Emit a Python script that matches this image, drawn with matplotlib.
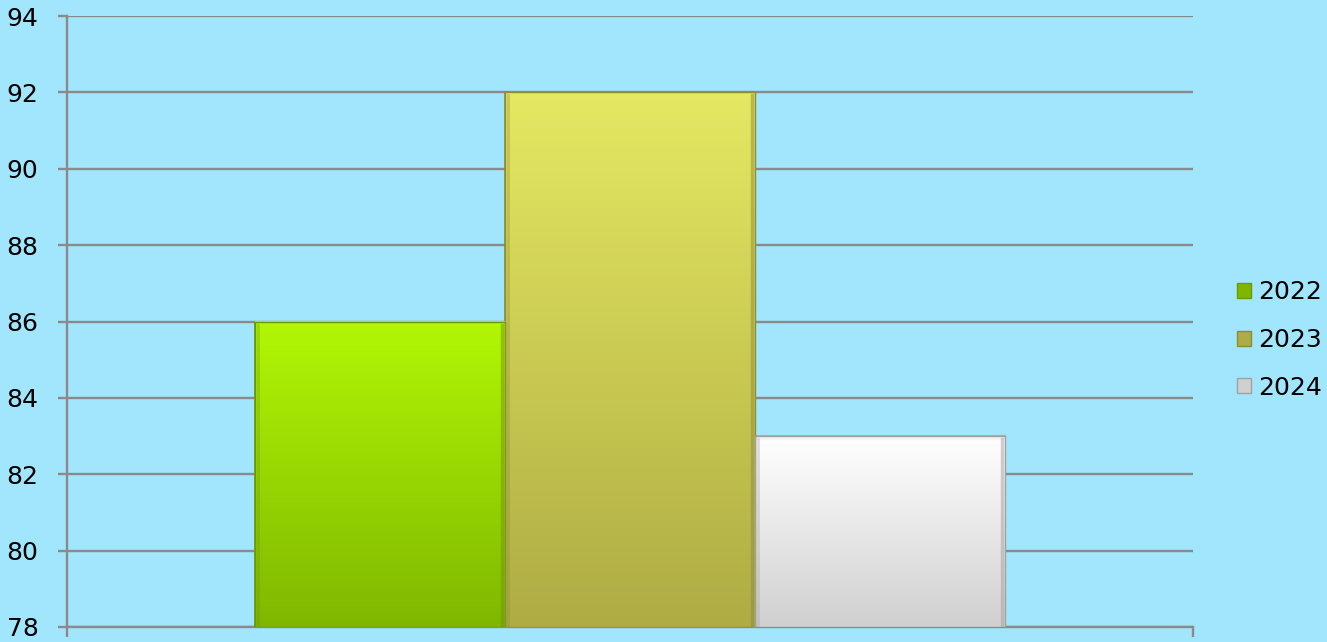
import matplotlib
matplotlib.use("Agg")
import matplotlib.pyplot as plt
import numpy as np
from matplotlib.colors import LinearSegmentedColormap
from matplotlib.patches import Patch

years = ["2022", "2023", "2024"]
values = [86, 92, 83]
y_ticks = [78, 80, 82, 84, 86, 88, 90, 92, 94]

# top / bottom colour of each bar's gradient
tops = ["#b2f705", "#e5e862", "#ffffff"]
bottoms = ["#7fb700", "#aeac44", "#d0d0d0"]
edges = ["#6a9a00", "#8f8c35", "#a0a0a0"]

bg = "#a2e6fd"
grid_c = "#8a8a8a"

fig = plt.figure(figsize=(13.27, 6.42), dpi=100, facecolor=bg)
ax = fig.add_axes([67 / 1327, 1 - 627 / 642, (1193 - 67) / 1327, (627 - 16) / 642])
ax.set_facecolor(bg)

width = 250 / 1126
offsets = [-1, 0, 1]
bars = []
for i, (yr, v) in enumerate(zip(years, values)):
    b = ax.bar(offsets[i] * width, v - 78, width=width, bottom=78,
               color=bottoms[i], edgecolor=edges[i], linewidth=1.2, zorder=3)
    bars.append(b[0])

ax.set_xlim(-0.5, 0.5)
ax.set_ylim(78, 94)

# gradient fill inside each bar
grad = np.linspace(0, 1, 256).reshape(-1, 1)
for i, p in enumerate(bars):
    x0, y0 = p.get_x(), p.get_y()
    x1, y1 = x0 + p.get_width(), y0 + p.get_height()
    cmap = LinearSegmentedColormap.from_list("g%d" % i, [bottoms[i], tops[i]])
    im = ax.imshow(grad, cmap=cmap, aspect="auto", origin="lower",
                   extent=(x0, x1, y0, y1), zorder=3.5)
    im.set_clip_path(p)
    # bevel: light top rim, darker sides
    ax.plot([x0, x1], [y1 - 0.04, y1 - 0.04], color=tops[i] if i != 2 else "#f4f4f4",
            lw=3, zorder=4, solid_capstyle="butt")
    dx = 0.003
    ax.plot([x1 - dx, x1 - dx], [y0, y1 - 0.08], color=edges[i], lw=2.5, alpha=0.5, zorder=4)
    ax.plot([x0 + dx, x0 + dx], [y0, y1 - 0.08], color=edges[i], lw=2, alpha=0.35, zorder=4)
    ax.bar(p.get_x() + p.get_width() / 2, p.get_height(), width=p.get_width(), bottom=y0,
           fill=False, edgecolor=edges[i], linewidth=1.0, zorder=5)

ax.set_yticks(y_ticks)
ax.set_yticklabels([str(t) for t in y_ticks], fontsize=18)
ax.set_xticks([-0.5, 0.5])
ax.set_xticklabels([])
ax.yaxis.grid(True, color=grid_c, linewidth=1.7, zorder=1)
ax.set_axisbelow(True)
ax.tick_params(axis="y", length=6.5, width=1.7, color=grid_c, pad=14)
ax.tick_params(axis="x", length=7, width=1.7, color=grid_c, direction="out")
for s in ["top", "right"]:
    ax.spines[s].set_visible(False)
for s in ["left", "bottom"]:
    ax.spines[s].set_color(grid_c)
    ax.spines[s].set_linewidth(1.7)

handles = [Patch(facecolor=bottoms[i], edgecolor=edges[i], label=years[i]) for i in range(3)]
leg = fig.legend(handles=handles, loc="center left", bbox_to_anchor=(1237 / 1327, 1 - 340 / 642),
                 frameon=False, fontsize=18, handlelength=0.55, handleheight=0.55,
                 handletextpad=0.3, labelspacing=0.95, borderpad=0, borderaxespad=0)

fig.savefig("out.png", dpi=100, facecolor=bg)
